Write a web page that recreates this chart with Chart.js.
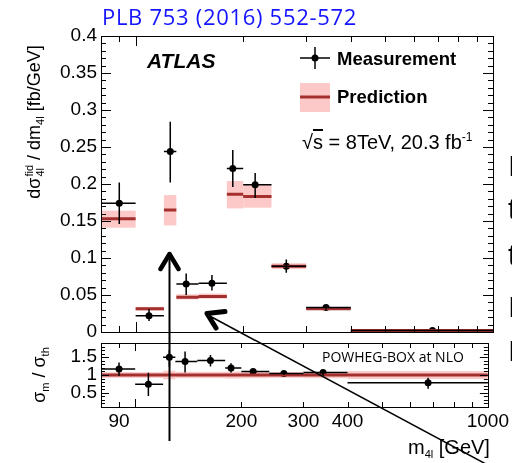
<!DOCTYPE html>
<html>
<head>
<meta charset="utf-8">
<script src="https://cdn.jsdelivr.net/npm/chart.js@4/dist/chart.umd.min.js"></script>
<style>
  html, body { margin: 0; padding: 0; background: #fff; width: 512px; height: 463px; overflow: hidden; position: relative; font-family: 'Liberation Sans', Arial, sans-serif; }
  canvas { position: absolute; left: 0; top: 0; }
  .t { position: absolute; white-space: nowrap; color: #000; line-height: 1; }
  .rot { transform: translate(-50%, -50%) rotate(-90deg); }
  .ss { display: inline-flex; flex-direction: column; font-size: 11px; line-height: 1; vertical-align: 7px; margin-left: 1px; }
  .sub { font-size: 11px; vertical-align: -4px; }
  .side { position: absolute; left: 508px; font-size: 30px; line-height: 1; color: #000; }
  svg { position: absolute; left: 0; top: 0; }
</style>
</head>
<body>
<canvas id="main" width="512" height="463"></canvas>
<canvas id="ratio" width="512" height="463"></canvas>

<div class="t" style="left:102px;top:5px;font-family:'Open Sans',sans-serif;font-size:22px;letter-spacing:0.7px;color:#1414ff">PLB 753 (2016) 552-572</div>
<div class="t" style="left:147px;top:50px;font-size:21px;font-weight:bold;font-style:italic">ATLAS</div>
<div class="t" style="left:337px;top:50px;font-size:18.5px;font-weight:bold">Measurement</div>
<div class="t" style="left:337px;top:88px;font-size:18.5px;font-weight:bold">Prediction</div>
<div class="t" style="left:302px;top:131px;font-size:20px">√<span style="text-decoration:overline">s</span> = 8TeV, 20.3 fb<sup style="font-size:12px">-1</sup></div>
<div class="t" style="left:322px;top:350px;font-family:'Open Sans',sans-serif;font-size:14px">POWHEG-BOX at NLO</div>
<div class="t" style="left:408px;top:437px;font-size:20px">m<span class="sub">4l</span> [GeV]</div>
<div class="t rot" style="left:35px;top:122px;font-size:18px">dσ<span class="ss"><span>fid</span><span>4l</span></span> / dm<span class="sub">4l</span> [fb/GeV]</div>
<div class="t rot" style="left:40px;top:375px;font-size:18px">σ<span class="sub">m</span> / σ<span class="sub">th</span></div>

<div class="side" style="top:151px">I</div>
<div class="side" style="top:194px">t</div>
<div class="side" style="top:240px">t</div>
<div class="side" style="top:292px">I</div>
<div class="side" style="top:336px">I</div>

<svg width="512" height="463">
  <line x1="300" y1="58" x2="330" y2="58" stroke="#000" stroke-width="1.5"/>
  <line x1="315" y1="47" x2="315" y2="69" stroke="#000" stroke-width="1.5"/>
  <circle cx="315" cy="58" r="3.5" fill="#000"/>
  <rect x="300" y="83" width="30" height="29" fill="#fcc8c8"/>
  <line x1="300" y1="97" x2="330" y2="97" stroke="#a3302f" stroke-width="3"/>
  <line x1="169.5" y1="254" x2="169.5" y2="441" stroke="#000" stroke-width="2"/>
  <polyline points="160.5,269 169.5,254 178.5,269" fill="none" stroke="#000" stroke-width="4.5" stroke-linecap="round" stroke-linejoin="round"/>
  <line x1="206" y1="314" x2="512" y2="478" stroke="#000" stroke-width="1.5"/>
  <polyline points="225,311.5 207,313.5 216,328" fill="none" stroke="#000" stroke-width="5" stroke-linecap="round" stroke-linejoin="round"/>
</svg>

<script>
// bins in m4l [GeV]
const binLo = [80, 100, 120, 130, 150, 180, 200, 240, 300, 400];
const binHi = [100, 120, 130, 150, 180, 200, 240, 300, 400, 1000];

// measurement (upper panel)
const measX = [90, 109, 125, 138.5, 163.5, 187, 216, 264, 341, 677];
const measY = [0.174, 0.022, 0.244, 0.065, 0.066, 0.221, 0.199, 0.089, 0.033, 0.002];
const measLo = [0.146, 0.015, 0.202, 0.050, 0.056, 0.196, 0.181, 0.080, 0.030, 0.001];
const measHi = [0.202, 0.031, 0.284, 0.079, 0.077, 0.246, 0.215, 0.098, 0.036, 0.003];

// prediction (upper panel)
const predY = [0.153, 0.0315, 0.165, 0.047, 0.048, 0.186, 0.183, 0.089, 0.0315, 0.002];
const predLo = [0.141, 0.029, 0.144, 0.044, 0.045, 0.167, 0.168, 0.085, 0.030, 0.0012];
const predHi = [0.164, 0.034, 0.185, 0.051, 0.052, 0.204, 0.199, 0.093, 0.033, 0.0028];

// ratio panel
const ratioY = [1.17, 0.74, 1.50, 1.38, 1.41, 1.20, 1.10, 1.04, 1.07, 0.78];
const ratioLo = [0.98, 0.41, 1.24, 1.07, 1.24, 1.07, 1.05, 1.00, 0.98, 0.61];
const ratioHi = [1.35, 1.06, 1.70, 1.66, 1.56, 1.33, 1.15, 1.08, 1.15, 0.92];
const ratioPred = [1, 1, 1, 1, 1, 1, 1, 1, 1, 1];
const ratioBandLo = [0.92, 0.92, 0.88, 0.91, 0.91, 0.90, 0.91, 0.92, 0.91, 0.89];
const ratioBandHi = [1.08, 1.08, 1.12, 1.09, 1.09, 1.10, 1.09, 1.08, 1.09, 1.11];

// axis ticks
const xLabels = [90, 200, 300, 400, 1000];
const xTickMarks = [90, 100, 200, 300, 400, 500, 600, 700, 800, 900, 1000];

const PINK = '#fcc8c8';
const RED = '#a3302f';
const FONT = { family: "'Liberation Sans', Arial, sans-serif", size: 19 };

function stepData(vals) {
  const out = [];
  vals.forEach((v, i) => {
    out.push({ x: binLo[i], y: v }, { x: binHi[i], y: v }, { x: binHi[i], y: null });
  });
  return out;
}

const histPlugin = {
  id: 'hist',
  beforeDatasetsDraw(chart, args, o) {
    const { ctx, chartArea: a, scales: { x, y } } = chart;
    ctx.save();
    ctx.beginPath();
    ctx.rect(a.left, a.top, a.right - a.left, a.bottom - a.top);
    ctx.clip();
    ctx.fillStyle = PINK;
    binLo.forEach((b, i) => {
      const x0 = x.getPixelForValue(b), x1 = x.getPixelForValue(binHi[i]);
      const y0 = y.getPixelForValue(o.bandHi[i]), y1 = y.getPixelForValue(o.bandLo[i]);
      ctx.fillRect(x0, y0, x1 - x0, y1 - y0);
    });
    ctx.restore();
  },
  afterDatasetsDraw(chart, args, o) {
    const { ctx, scales: { x, y } } = chart;
    ctx.save();
    ctx.strokeStyle = '#000';
    ctx.lineWidth = 1.5;
    o.py.forEach((v, i) => {
      const yc = y.getPixelForValue(v);
      const xc = x.getPixelForValue(measX[i]);
      ctx.beginPath();
      ctx.moveTo(x.getPixelForValue(binLo[i]), yc);
      ctx.lineTo(x.getPixelForValue(binHi[i]), yc);
      ctx.moveTo(xc, y.getPixelForValue(o.errLo[i]));
      ctx.lineTo(xc, y.getPixelForValue(o.errHi[i]));
      ctx.stroke();
    });
    ctx.restore();
  },
  afterDraw(chart, args, o) {
    const { ctx, chartArea: a, scales: { x, y } } = chart;
    ctx.save();
    ctx.strokeStyle = '#000';
    ctx.lineWidth = 1;
    ctx.beginPath();
    xTickMarks.forEach(v => {
      const px = Math.round(x.getPixelForValue(v)) + 0.5;
      const len = (v === 100 || v === 1000) ? o.xMajor : o.xMinor;
      ctx.moveTo(px, a.bottom); ctx.lineTo(px, a.bottom - len);
      ctx.moveTo(px, a.top); ctx.lineTo(px, a.top + len);
    });
    for (let k = 0; ; k++) {
      const v = o.yStart + k * o.yMinorStep;
      if (v > o.yEnd + 1e-9) break;
      const major = Math.abs(v / o.yMajorStep - Math.round(v / o.yMajorStep)) < 1e-6;
      const len = major ? o.yMajorLen : o.yMinorLen;
      const py = Math.round(y.getPixelForValue(v)) + 0.5;
      ctx.moveTo(a.left, py); ctx.lineTo(a.left + len, py);
      ctx.moveTo(a.right, py); ctx.lineTo(a.right - len, py);
    }
    ctx.stroke();
    ctx.strokeRect(Math.round(a.left) + 0.5, Math.round(a.top) + 0.5, Math.round(a.right - a.left), Math.round(a.bottom - a.top));
    ctx.restore();
  }
};

new Chart(document.getElementById('main'), {
  type: 'scatter',
  plugins: [histPlugin],
  data: {
    datasets: [
      { data: stepData(predY), showLine: true, borderColor: RED, borderWidth: 3, pointRadius: 0, spanGaps: false },
      { data: measX.map((v, i) => ({ x: v, y: measY[i] })), pointRadius: 3.5, backgroundColor: '#000', borderWidth: 0 }
    ]
  },
  options: {
    responsive: false, animation: false,
    layout: { padding: { top: 36, right: 19, bottom: 131, left: 0 } },
    plugins: {
      legend: { display: false }, tooltip: { enabled: false },
      hist: { bandLo: predLo, bandHi: predHi, py: measY, errLo: measLo, errHi: measHi,
        xMajor: 10, xMinor: 6, yStart: 0, yEnd: 0.4, yMinorStep: 0.01, yMajorStep: 0.05, yMajorLen: 10, yMinorLen: 5 }
    },
    scales: {
      x: { type: 'logarithmic', min: 80, max: 1000, display: false },
      y: {
        min: 0, max: 0.4,
        afterFit: s => { s.width = 101; },
        grid: { display: false, drawTicks: false }, border: { display: false },
        ticks: { stepSize: 0.05, autoSkip: false, color: '#000', font: FONT, padding: 4,
          callback: v => String(Math.round(v * 100) / 100) }
      }
    }
  }
});

new Chart(document.getElementById('ratio'), {
  type: 'scatter',
  plugins: [histPlugin],
  data: {
    datasets: [
      { data: stepData(ratioPred), showLine: true, borderColor: RED, borderWidth: 3, pointRadius: 0, spanGaps: false },
      { data: measX.map((v, i) => ({ x: v, y: ratioY[i] })), pointRadius: 3.5, backgroundColor: '#000', borderWidth: 0 }
    ]
  },
  options: {
    responsive: false, animation: false,
    layout: { padding: { top: 343, right: 19, bottom: 0, left: 0 } },
    plugins: {
      legend: { display: false }, tooltip: { enabled: false },
      hist: { bandLo: ratioBandLo, bandHi: ratioBandHi, py: ratioY, errLo: ratioLo, errHi: ratioHi,
        xMajor: 8, xMinor: 5, yStart: 0.1, yEnd: 1.9, yMinorStep: 0.1, yMajorStep: 0.5, yMajorLen: 8, yMinorLen: 4 }
    },
    scales: {
      x: {
        type: 'logarithmic', min: 80, max: 1000,
        afterFit: s => { s.height = 56; },
        afterBuildTicks: s => { s.ticks = xLabels.map(v => ({ value: v })); },
        grid: { display: false, drawTicks: false }, border: { display: false },
        ticks: { autoSkip: false, maxRotation: 0, color: '#000', font: FONT, padding: 3,
          callback: v => String(v) }
      },
      y: {
        min: 0.1, max: 1.9,
        afterFit: s => { s.width = 101; },
        afterBuildTicks: s => { s.ticks = [0.5, 1, 1.5].map(v => ({ value: v })); },
        grid: { display: false, drawTicks: false }, border: { display: false },
        ticks: { autoSkip: false, color: '#000', font: FONT, padding: 4,
          callback: v => String(v) }
      }
    }
  }
});
</script>
</body>
</html>
